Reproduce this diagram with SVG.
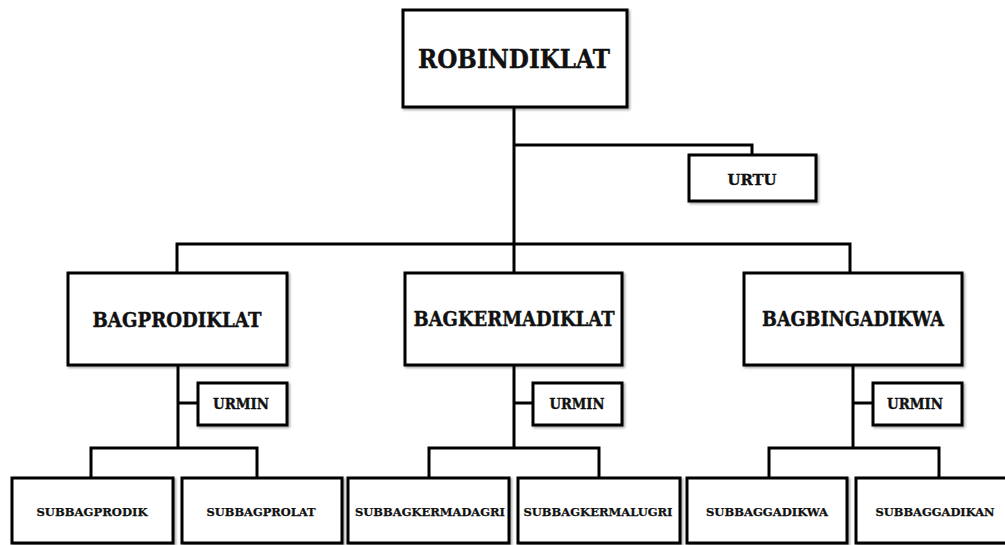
<svg xmlns="http://www.w3.org/2000/svg" width="1005" height="545" viewBox="0 0 1005 545">
  <style>
    .box { fill: #ffffff; stroke: #000000; stroke-width: 3; filter: url(#shade); }
    .wire { fill: none; stroke: #000000; stroke-width: 3; stroke-linejoin: miter; }
    .lbl { font-family: "DejaVu Serif", "Liberation Serif", serif; font-weight: bold; fill: #111111; stroke: #111111; stroke-width: 0.4; text-anchor: middle; }
    .t1 { font-size: 26px; }
    .t2 { font-size: 19.5px; }
    .t3 { font-size: 15px; }
    .t4 { font-size: 11px; stroke-width: 0.25; }
  </style>
  <defs>
    <filter id="shade" x="-5%" y="-5%" width="115%" height="120%">
      <feDropShadow dx="1.5" dy="1.5" stdDeviation="1" flood-color="#000000" flood-opacity="0.35"/>
    </filter>
  </defs>
  <rect width="1005" height="545" fill="#ffffff"/>

  <!-- connectors -->
  <g id="connectors">
    <path class="wire" d="M514 107 V244"/>
    <path class="wire" d="M514 145 H752 V155"/>
    <path class="wire" d="M177 273 V244 H850 V273"/>
    <path class="wire" d="M514 244 V273"/>
    <!-- left branch -->
    <path class="wire" d="M178 365 V448"/>
    <path class="wire" d="M178 403 H198"/>
    <path class="wire" d="M91 478 V448 H257 V478"/>
    <!-- middle branch -->
    <path class="wire" d="M514 365 V448"/>
    <path class="wire" d="M514 403 H533"/>
    <path class="wire" d="M429 478 V448 H599 V478"/>
    <!-- right branch -->
    <path class="wire" d="M853 365 V448"/>
    <path class="wire" d="M853 403 H873"/>
    <path class="wire" d="M769 478 V448 H939 V478"/>
  </g>

  <g id="robindiklat">
    <rect class="box" x="403" y="10" width="224" height="97"/>
    <text class="lbl t1" x="514" y="68" textLength="192" lengthAdjust="spacingAndGlyphs">ROBINDIKLAT</text>
  </g>

  <g id="urtu">
    <rect class="box" x="689" y="155" width="127" height="46"/>
    <text class="lbl t3" x="752" y="185" textLength="49" lengthAdjust="spacingAndGlyphs">URTU</text>
  </g>

  <g id="bagprodiklat">
    <rect class="box" x="68" y="273" width="219" height="92"/>
    <text class="lbl t2" x="177" y="327" textLength="169" lengthAdjust="spacingAndGlyphs">BAGPRODIKLAT</text>
  </g>

  <g id="bagkermadiklat">
    <rect class="box" x="405" y="273" width="217" height="92"/>
    <text class="lbl t2" x="514" y="326" textLength="201" lengthAdjust="spacingAndGlyphs">BAGKERMADIKLAT</text>
  </g>

  <g id="bagbingadikwa">
    <rect class="box" x="744" y="273" width="218" height="92"/>
    <text class="lbl t2" x="853" y="326" textLength="182" lengthAdjust="spacingAndGlyphs">BAGBINGADIKWA</text>
  </g>

  <g id="urmin-prodiklat">
    <rect class="box" x="198" y="383" width="89" height="42"/>
    <text class="lbl t3" x="241" y="409" textLength="56" lengthAdjust="spacingAndGlyphs">URMIN</text>
  </g>

  <g id="urmin-kermadiklat">
    <rect class="box" x="533" y="383" width="89" height="42"/>
    <text class="lbl t3" x="577" y="409" textLength="55" lengthAdjust="spacingAndGlyphs">URMIN</text>
  </g>

  <g id="urmin-bingadikwa">
    <rect class="box" x="873" y="383" width="89" height="42"/>
    <text class="lbl t3" x="915" y="409" textLength="56" lengthAdjust="spacingAndGlyphs">URMIN</text>
  </g>

  <g id="subbagprodik">
    <rect class="box" x="12" y="478" width="161" height="65"/>
    <text class="lbl t4" x="92" y="516" textLength="111" lengthAdjust="spacingAndGlyphs">SUBBAGPRODIK</text>
  </g>

  <g id="subbagprolat">
    <rect class="box" x="182" y="478" width="160" height="65"/>
    <text class="lbl t4" x="261" y="516" textLength="109" lengthAdjust="spacingAndGlyphs">SUBBAGPROLAT</text>
  </g>

  <g id="subbagkermadagri">
    <rect class="box" x="348" y="478" width="161" height="65"/>
    <text class="lbl t4" x="430" y="516" textLength="150" lengthAdjust="spacingAndGlyphs">SUBBAGKERMADAGRI</text>
  </g>

  <g id="subbagkermalugri">
    <rect class="box" x="518" y="478" width="162" height="65"/>
    <text class="lbl t4" x="598" y="516" textLength="149" lengthAdjust="spacingAndGlyphs">SUBBAGKERMALUGRI</text>
  </g>

  <g id="subbaggadikwa">
    <rect class="box" x="687" y="478" width="160" height="65"/>
    <text class="lbl t4" x="767" y="516" textLength="122" lengthAdjust="spacingAndGlyphs">SUBBAGGADIKWA</text>
  </g>

  <g id="subbaggadikan">
    <rect class="box" x="856" y="478" width="160" height="65"/>
    <text class="lbl t4" x="935" y="516" textLength="119" lengthAdjust="spacingAndGlyphs">SUBBAGGADIKAN</text>
  </g>
</svg>
